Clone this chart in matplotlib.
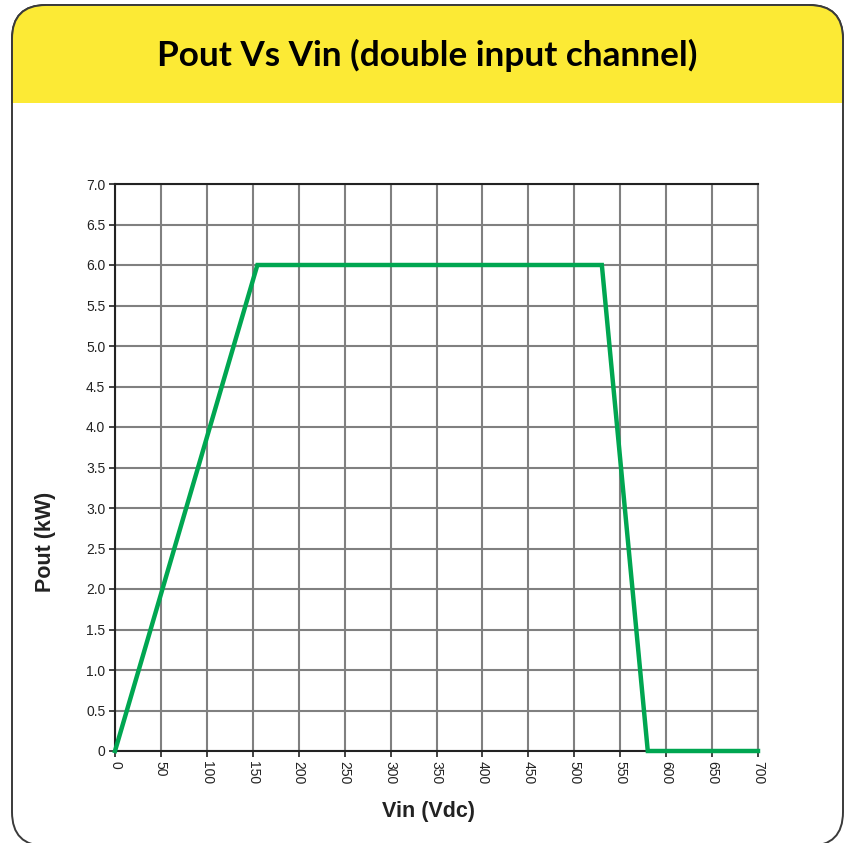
import matplotlib
matplotlib.use("Agg")
import matplotlib.pyplot as plt
from matplotlib.patches import FancyBboxPatch, Rectangle

vin = [0, 155, 530, 580, 700]
pout = [0, 6.0, 6.0, 0, 0]
xticks = list(range(0, 701, 50))
yticks = [i * 0.5 for i in range(15)]
ylabels = ["0"] + [f"{v:.1f}" for v in yticks[1:]]

W, H = 846, 843
fig = plt.figure(figsize=(W / 100, H / 100), dpi=100)

def fx(px):
    return px / W

def fy(py):
    return 1 - py / H

# border box
x0, x1, y0, y1 = 12, 843, 5, 846
r = 34
box = FancyBboxPatch((fx(x0 + r), fy(y1 - r)), fx(x1 - x0 - 2 * r), (y1 - y0 - 2 * r) / H,
                     boxstyle=f"round,pad={r / W}", transform=fig.transFigure,
                     facecolor="white", edgecolor="#3a3a3a", linewidth=1.4, zorder=0,
                     mutation_aspect=W / H)
fig.patches.append(box)
ybox = FancyBboxPatch((fx(x0 + r), fy(y1 - r)), fx(x1 - x0 - 2 * r), (y1 - y0 - 2 * r) / H,
                      boxstyle=f"round,pad={r / W}", transform=fig.transFigure,
                      facecolor="#FCEA35", edgecolor="#3a3a3a", linewidth=1.4, zorder=1,
                      mutation_aspect=W / H)
clip = Rectangle((0, fy(103)), 1, 1, transform=fig.transFigure)
ybox.set_clip_path(clip)
fig.patches.append(ybox)

fig.text(fx(427), fy(55), "Pout Vs Vin (double input channel)", ha="center", va="center",
         fontsize=25.3, fontweight="bold", family="Lato", color="black", zorder=3)

ax = fig.add_axes([fx(115), fy(751), fx(758 - 115), (751 - 184) / H])
ax.set_zorder(2)
ax.plot(vin, pout, color="#00A651", linewidth=3.2, solid_joinstyle="miter", zorder=3, clip_on=False)
ax.set_xlim(0, 700)
ax.set_ylim(0, 7.0)
ax.set_xticks(xticks)
ax.set_xticklabels([str(v) for v in xticks], rotation=-90, fontsize=10, family="Liberation Sans", color="#222222")
ax.set_yticks(yticks)
ax.set_yticklabels(ylabels, fontsize=10, family="Liberation Sans", color="#222222")
ax.grid(True, color="#808080", linewidth=1.5)
ax.set_axisbelow(True)
for s in ["left", "bottom", "top"]:
    ax.spines[s].set_color("#222222")
    ax.spines[s].set_linewidth(1.5)
ax.spines["right"].set_color("#808080")
ax.spines["right"].set_linewidth(1.5)
ax.tick_params(axis="both", length=4, width=1.2, color="#222222", pad=3)
ax.set_xlabel("Vin (Vdc)", fontsize=15.5, fontweight="bold", family="Liberation Sans", color="#222222", va="center")
ax.set_ylabel("Pout (kW)", fontsize=15.5, fontweight="bold", family="Liberation Sans", color="#222222", va="center")
ax.xaxis.set_label_coords((428 - 115) / 643, (751 - 812) / 567)
ax.yaxis.set_label_coords((46 - 115) / 643, (751 - 542) / 567)

fig.savefig("out.png", dpi=100)
